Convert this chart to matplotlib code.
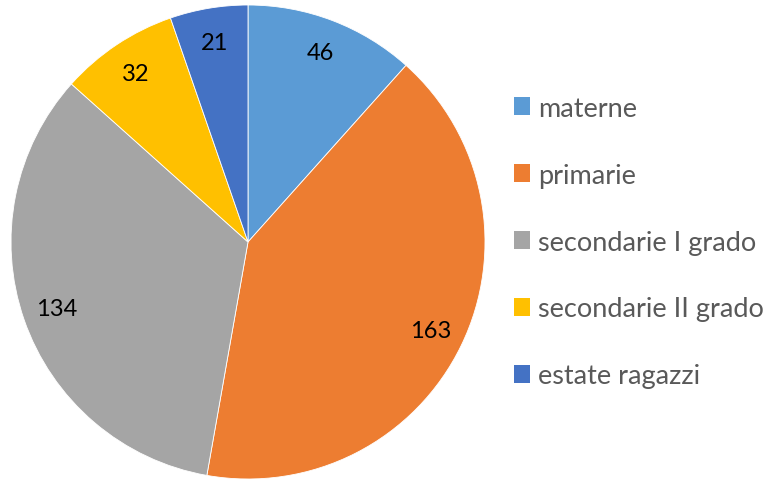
import matplotlib
matplotlib.use('Agg')
import matplotlib.pyplot as plt
from matplotlib.patches import Patch

categories = ['materne', 'primarie', 'secondarie I grado', 'secondarie II grado', 'estate ragazzi']
values = [46, 163, 134, 32, 21]
colors = ['#5B9BD5', '#ED7D31', '#A5A5A5', '#FFC000', '#4472C4']

plt.rcParams['font.family'] = ['Lato', 'DejaVu Sans']

fig = plt.figure(figsize=(7.68, 4.81), dpi=100)
W, H = 768, 481
cx, cy, r = 248, 243, 237
ax = fig.add_axes([(cx - r) / W, (H - cy - r) / H, 2 * r / W, 2 * r / H])

wedges, texts = ax.pie(values, colors=colors, startangle=90, counterclock=False,
                       radius=1, labels=[str(v) for v in values], labeldistance=0.855,
                       wedgeprops=dict(edgecolor='white', linewidth=0.6),
                       textprops=dict(fontsize=17, color='black', ha='center', va='center'))
ax.set_xlim(-1, 1)
ax.set_ylim(-1, 1)
ax.set_aspect('equal')
ax.axis('off')

handles = [Patch(facecolor=c) for c in colors]
leg = fig.legend(handles, categories, loc='center left', bbox_to_anchor=(514 / W, 1 - 243 / H),
                 frameon=False, fontsize=19.5, handlelength=0.6, handleheight=0.6,
                 handletextpad=0.3, labelspacing=1.55, borderpad=0, borderaxespad=0)
for t in leg.get_texts():
    t.set_color('#595959')

fig.savefig('out.png', dpi=100)
